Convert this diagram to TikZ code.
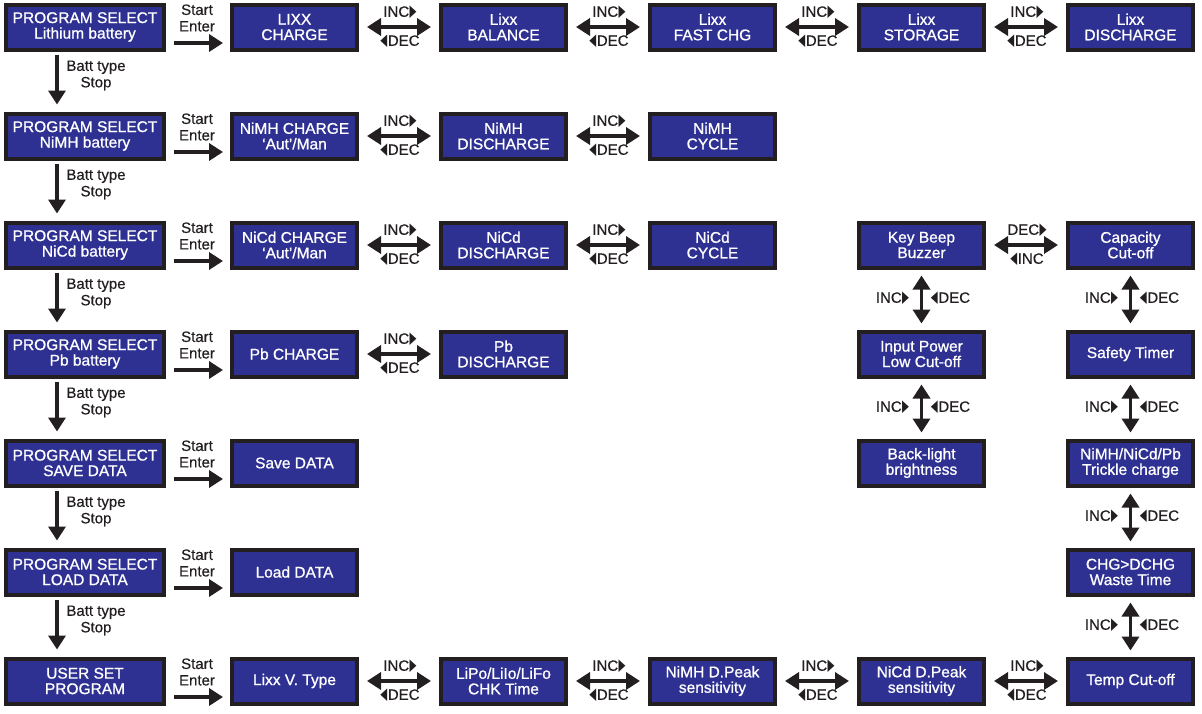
\documentclass[tikz,border=0pt]{standalone}
\usepackage{fontspec}
\setmainfont{Liberation Sans}
\newfontfamily\boxfont[FakeBold=0.9]{Liberation Sans}
\newfontfamily\lblfont[FakeBold=0.5]{Liberation Sans}
\newfontfamily\symf{DejaVu Sans}
\usetikzlibrary{arrows.meta}
\definecolor{lcd}{HTML}{2E3192}
\definecolor{frame}{HTML}{231F20}
\newcommand{\rtri}{\hspace{0.5pt}\raisebox{0pt}{\scalebox{0.6}[1.1]{\symf\fontsize{15}{15}\selectfont ▶}}}
\newcommand{\ltri}{\raisebox{0pt}{\scalebox{0.6}[1.1]{\symf\fontsize{15}{15}\selectfont ◀}}\hspace{0.5pt}}
\tikzset{
  lcdbox/.style={draw=frame, line width=4pt, fill=lcd, text=white,
    minimum width=125pt, minimum height=45pt, inner sep=0pt, align=center,
    font=\boxfont\fontsize{15.5}{15.5}\selectfont},
  selbox/.style={lcdbox, minimum width=158pt},
  lbl/.style={inner sep=0pt, align=center, text=frame, font=\lblfont\fontsize{15}{16.5}\selectfont},
  arr/.style={draw=frame, line width=3.8pt, -{Triangle[length=14pt,width=17pt]}},
  darr/.style={draw=frame, line width=3.8pt, {Triangle[length=14pt,width=17pt]}-{Triangle[length=14pt,width=17pt]}},
}
\begin{document}
\begin{tikzpicture}[x=1pt,y=-1pt]
\useasboundingbox (0,0) rectangle (1202,713);
% left column
\node[selbox] (p1) at (85,27)  {PROGRAM SELECT\\Lithium battery};
\node[selbox] (p2) at (85,136) {PROGRAM SELECT\\NiMH battery};
\node[selbox] (p3) at (85,245) {PROGRAM SELECT\\NiCd battery};
\node[selbox] (p4) at (85,354) {PROGRAM SELECT\\Pb battery};
\node[selbox] (p5) at (85,463) {PROGRAM SELECT\\SAVE DATA};
\node[selbox] (p6) at (85,572) {PROGRAM SELECT\\LOAD DATA};
\node[selbox] (p7) at (85,681) {USER SET\\PROGRAM};
% row 1
\node[lcdbox] (a2) at (294.5,27) {LIXX\\CHARGE};
\node[lcdbox] (a3) at (503.5,27) {Lixx\\BALANCE};
\node[lcdbox] (a4) at (712.5,27) {Lixx\\FAST CHG};
\node[lcdbox] (a5) at (921.5,27) {Lixx\\STORAGE};
\node[lcdbox] (a6) at (1130.5,27) {Lixx\\DISCHARGE};
% row 2
\node[lcdbox] (b2) at (294.5,136) {NiMH CHARGE\\‘Aut’/Man};
\node[lcdbox] (b3) at (503.5,136) {NiMH\\DISCHARGE};
\node[lcdbox] (b4) at (712.5,136) {NiMH\\CYCLE};
% row 3
\node[lcdbox] (c2) at (294.5,245) {NiCd CHARGE\\‘Aut’/Man};
\node[lcdbox] (c3) at (503.5,245) {NiCd\\DISCHARGE};
\node[lcdbox] (c4) at (712.5,245) {NiCd\\CYCLE};
\node[lcdbox] (c5) at (921.5,245) {Key Beep\\Buzzer};
\node[lcdbox] (c6) at (1130.5,245) {Capacity\\Cut-off};
% row 4
\node[lcdbox] (d2) at (294.5,354) {Pb CHARGE};
\node[lcdbox] (d3) at (503.5,354) {Pb\\DISCHARGE};
\node[lcdbox] (d5) at (921.5,354) {Input Power\\Low Cut-off};
\node[lcdbox] (d6) at (1130.5,354) {Safety Timer};
% row 5
\node[lcdbox] (e2) at (294.5,463) {Save DATA};
\node[lcdbox] (e5) at (921.5,463) {Back-light\\brightness};
\node[lcdbox] (e6) at (1130.5,463) {NiMH/NiCd/Pb\\Trickle charge};
% row 6
\node[lcdbox] (f2) at (294.5,572) {Load DATA};
\node[lcdbox] (f6) at (1130.5,572) {CHG>DCHG\\Waste Time};
% row 7
\node[lcdbox] (g2) at (294.5,681) {Lixx V. Type};
\node[lcdbox] (g3) at (503.5,681) {LiPo/LiIo/LiFo\\CHK Time};
\node[lcdbox] (g4) at (712.5,681) {NiMH D.Peak\\sensitivity};
\node[lcdbox] (g5) at (921.5,681) {NiCd D.Peak\\sensitivity};
\node[lcdbox] (g6) at (1130.5,681) {Temp Cut-off};

% Start/Enter arrows
\foreach \p/\q in {p1/a2,p2/b2,p3/c2,p4/d2,p5/e2,p6/f2,p7/g2}{
  \draw[arr] ([xshift=8pt,yshift=-16pt]\p.east) -- ([xshift=-7pt,yshift=-16pt]\q.west);
  \node[lbl] (se-\p) at ([xshift=31pt,yshift=9pt]\p.east) {Start\\Enter};
}
% Batt type / Stop arrows
\foreach \p/\q in {p1/p2,p2/p3,p3/p4,p4/p5,p5/p6,p6/p7}{
  \draw[arr] ([xshift=-28pt,yshift=-3pt]\p.south) -- ([xshift=-28pt,yshift=7pt]\q.north);
  \node[lbl] (bs-\p) at ([xshift=11pt,yshift=-24pt]\p.south) {Batt type\\Stop};
}
% horizontal INC/DEC arrows
\foreach \p/\q in {a2/a3,a3/a4,a4/a5,a5/a6,b2/b3,b3/b4,c2/c3,c3/c4,d2/d3,g2/g3,g3/g4,g4/g5,g5/g6}{
  \draw[darr] ([xshift=8pt]\p.east) -- ([xshift=-8pt]\q.west);
  \node[lbl] (inc-\p) at ([xshift=41pt,yshift=14.5pt]\p.east) {INC\rtri};
  \node[lbl] (dec-\p) at ([xshift=41pt,yshift=-14.5pt]\p.east) {\ltri DEC};
}
% DEC/INC between Key Beep and Capacity
\draw[darr] ([xshift=8pt]c5.east) -- ([xshift=-8pt]c6.west);
\node[lbl] (dec-c5) at ([xshift=41pt,yshift=14.5pt]c5.east) {DEC\rtri};
\node[lbl] (inc-c5) at ([xshift=41pt,yshift=-14.5pt]c5.east) {\ltri INC};
% vertical INC/DEC arrows
\foreach \p/\q in {c5/d5,d5/e5,c6/d6,d6/e6,e6/f6,f6/g6}{
  \draw[darr] ([yshift=-6pt]\p.south) -- ([yshift=6pt]\q.north);
  \node[lbl] (vi-\p) at ([xshift=-29pt,yshift=-29pt]\p.south) {INC\rtri};
  \node[lbl] (vd-\p) at ([xshift=29pt,yshift=-29pt]\p.south) {\ltri DEC};
}
\end{tikzpicture}
\end{document}
